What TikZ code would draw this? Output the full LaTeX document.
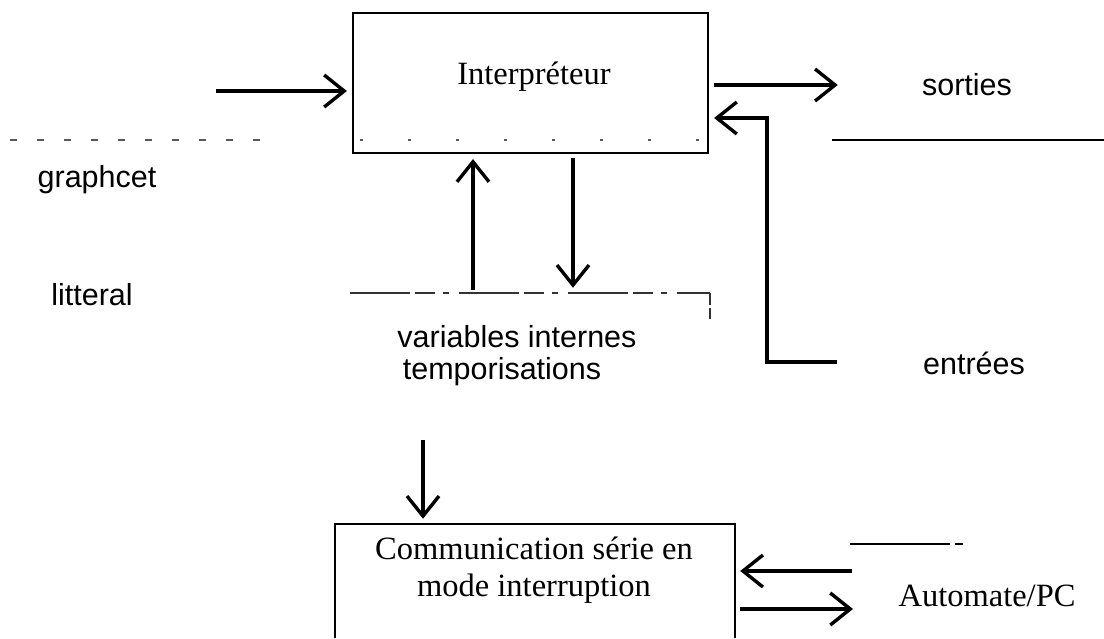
\documentclass[tikz,border=0pt]{standalone}
\usepackage{fontspec}
\setmainfont{Liberation Serif}
\setsansfont{Liberation Sans}
\usetikzlibrary{arrows.meta}
\begin{document}
\begin{tikzpicture}[x=1pt,y=-1pt,
  box/.style={draw, line width=2.2pt, inner sep=0pt},
  area/.style={inner sep=0pt},
  arr/.style={line width=3.4pt, -{Straight Barb[length=20pt,width=32pt]}},
  serif/.style={font=\rmfamily\fontsize{32.5}{37}\selectfont, align=center, inner sep=0pt},
  sans/.style={font=\sffamily\fontsize{30.5}{36}\selectfont, inner sep=0pt},
  faint/.style={line width=1.3pt, black!65, dash pattern=on 7pt off 20pt},
  broken/.style={line width=1.8pt, black!80},
]
\useasboundingbox (0,0) rectangle (1104,639);

% main blocks
\node[box, minimum width=355pt, minimum height=140pt] (interp) at (530.5,83) {};
\node[serif] (interptext) at (534,77) {Interpréteur};

\node[area, minimum width=360pt, minimum height=147pt] (vars) at (530,366.5) {};
\node[sans] (varsA) at (517,337) {variables internes};
\node[sans] (varsB) at (502,372) {temporisations};

\node[area, minimum width=400pt, minimum height=114pt] (comm) at (535,581) {};
\node[serif] (commtext) at (534,570) {Communication série en\\mode interruption};

% side labels
\node[sans] (graphcet) at (97,180) {graphcet};
\node[sans] (litteral) at (92,295) {litteral};
\node[area, minimum width=258pt, minimum height=30pt] (sorties) at (967,85) {};
\node[sans] (sortiestext) at (967,85) {sorties};
\node[sans] (entrees) at (974,363) {entrées};
\node[serif] (auto) at (987,596) {Automate/PC};

% block outlines
\draw[broken, dash pattern=on 60pt off 5pt on 20pt off 8pt on 6pt off 10pt]
  (vars.north west) -- (vars.north east);
\draw[broken, line width=2pt, dash pattern=on 12pt off 3pt on 20pt off 4pt]
  (vars.north east) -- ([yshift=47pt]vars.east);
\draw[line width=2.2pt] (comm.south west) -- (comm.north west)
  -- (comm.north east) -- (comm.south east);

% faint rules
\coordinate (rl) at (10,140);
\coordinate (rr) at (277,140);
\draw[faint] (rl) -- (rr);
\draw[faint, dash pattern=on 3pt off 45pt] ([xshift=8pt]interp.west |- rl) -- ([xshift=-4pt]interp.east |- rl);
\coordinate (su) at (832,140);
\draw[line width=1.8pt] (su) -- (su -| sorties.east) -- (1104,140);
\coordinate (au) at (850,544);
\draw[line width=1.5pt] (au) -- (942,544);
\draw[line width=1.3pt, dash pattern=on 8pt off 5pt] (942,544) -- (967,544);

% connectors
\coordinate (in) at (216,91);
\draw[arr] (in) -- ([xshift=-5pt]in -| interp.west);
\draw[arr, shorten <=5pt] (interp.east |- sorties) -- (sorties.west);

\coordinate (ein) at (837,362);
\coordinate (fbk) at (767,118);
\draw[arr, line join=miter] (ein) -- (ein -| fbk) -- (fbk) -- ([xshift=5pt]fbk -| interp.east);

\coordinate (dn) at (573,0);
\coordinate (up) at (473,0);
\coordinate (lo) at (423,0);
\draw[arr] ([yshift=-4pt]interp.south -| dn) -- ([yshift=5pt]vars.north -| dn);
\draw[arr] ([yshift=3pt]vars.north -| up) -- ([yshift=-5pt]interp.south -| up);
\draw[arr] (vars.south -| lo) -- ([yshift=5pt]comm.north -| lo);

\coordinate (a1) at (852,571);
\coordinate (a2) at (853,609);
\draw[arr] (a1) -- ([xshift=5pt]a1 -| comm.east);
\draw[arr] ([xshift=5pt]a2 -| comm.east) -- (a2);
\end{tikzpicture}
\end{document}
